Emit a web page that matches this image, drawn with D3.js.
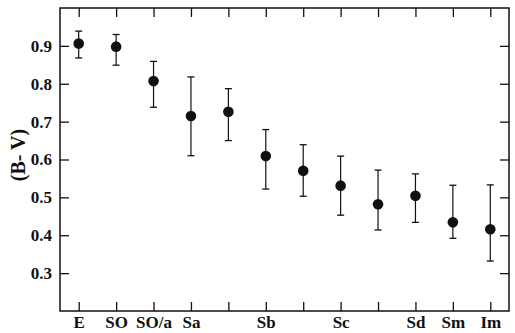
<!DOCTYPE html>
<html>
<head>
<meta charset="utf-8">
<script src="https://cdn.jsdelivr.net/npm/d3@7"></script>
<style>
  body { margin: 0; background: #fff; }
  text { font-family: "Liberation Serif", "DejaVu Serif", serif; font-weight: bold; fill: #111; }
</style>
</head>
<body>
<svg id="chart" width="515" height="333"></svg>
<script>
// Morphological type positions (blank labels are intermediate types)
let typeLabels = ['E', 'SO', 'SO/a', 'Sa', '', 'Sb', '', 'Sc', '', 'Sd', 'Sm', 'Im'];
let bvMean  = [0.906, 0.898, 0.807, 0.715, 0.726, 0.609, 0.570, 0.531, 0.482, 0.504, 0.434, 0.416];
let bvUpper = [0.939, 0.930, 0.859, 0.818, 0.787, 0.679, 0.639, 0.609, 0.572, 0.562, 0.532, 0.533];
let bvLower = [0.868, 0.849, 0.738, 0.610, 0.650, 0.522, 0.503, 0.453, 0.414, 0.434, 0.392, 0.332];
let yTicks = [0.3, 0.4, 0.5, 0.6, 0.7, 0.8, 0.9];

let data = typeLabels.map((t, i) => ({pos: i + 1, label: t, mean: bvMean[i], hi: bvUpper[i], lo: bvLower[i]}));

let L = 60, R = 509, T = 8, B = 311;
let tick = 9;

let svg = d3.select('#chart');

let xScale = d3.scaleLinear().domain([0.5, 12.5]).range([L, R]);
let yScale = d3.scaleLinear().domain([0.2, 1.0]).range([B, T]);
let xTicks = data.map(d => d.pos);

// Axes with inward ticks on all four sides
svg.append('g')
    .attr('class', 'axis')
    .attr('transform', `translate(0, ${B})`)
    .call(d3.axisBottom(xScale).tickValues(xTicks).tickSizeInner(-tick).tickSizeOuter(0)
        .tickPadding(5).tickFormat(p => typeLabels[p - 1]));

svg.append('g')
    .attr('class', 'axis')
    .attr('transform', `translate(0, ${T})`)
    .call(d3.axisTop(xScale).tickValues(xTicks).tickSizeInner(-tick).tickSizeOuter(0).tickFormat(''));

svg.append('g')
    .attr('class', 'axis')
    .attr('transform', `translate(${L}, 0)`)
    .call(d3.axisLeft(yScale).tickValues(yTicks).tickSizeInner(-tick).tickSizeOuter(0)
        .tickPadding(8).tickFormat(d3.format('.1f')));

svg.append('g')
    .attr('class', 'axis')
    .attr('transform', `translate(${R}, 0)`)
    .call(d3.axisRight(yScale).tickValues(yTicks).tickSizeInner(-tick).tickSizeOuter(0).tickFormat(''));

svg.selectAll('.axis path').remove();
svg.selectAll('.axis line').attr('stroke', '#111').attr('stroke-width', 1.3);
svg.selectAll('.axis text').attr('font-size', 17).attr('font-family', null).attr('fill', null);

// Frame
svg.append('rect')
    .attr('x', L).attr('y', T)
    .attr('width', R - L).attr('height', B - T)
    .attr('fill', 'none').attr('stroke', '#111').attr('stroke-width', 1.5);

// Error bars
let bars = svg.append('g').selectAll('g').data(data).enter().append('g');
bars.append('line')
    .attr('x1', d => xScale(d.pos)).attr('x2', d => xScale(d.pos))
    .attr('y1', d => yScale(d.hi)).attr('y2', d => yScale(d.lo))
    .attr('stroke', '#111').attr('stroke-width', 1.2);
bars.append('line')
    .attr('x1', d => xScale(d.pos) - 3.5).attr('x2', d => xScale(d.pos) + 3.5)
    .attr('y1', d => yScale(d.hi)).attr('y2', d => yScale(d.hi))
    .attr('stroke', '#111').attr('stroke-width', 1.3);
bars.append('line')
    .attr('x1', d => xScale(d.pos) - 3.5).attr('x2', d => xScale(d.pos) + 3.5)
    .attr('y1', d => yScale(d.lo)).attr('y2', d => yScale(d.lo))
    .attr('stroke', '#111').attr('stroke-width', 1.3);

// Points
svg.append('g').selectAll('circle').data(data).enter().append('circle')
    .attr('cx', d => xScale(d.pos))
    .attr('cy', d => yScale(d.mean))
    .attr('r', 5.3)
    .attr('fill', '#111');

// Y axis label
svg.append('text')
    .attr('transform', `translate(25, 155) rotate(-90)`)
    .attr('text-anchor', 'middle')
    .attr('font-size', 20)
    .text('(B- V)');
</script>
</body>
</html>
